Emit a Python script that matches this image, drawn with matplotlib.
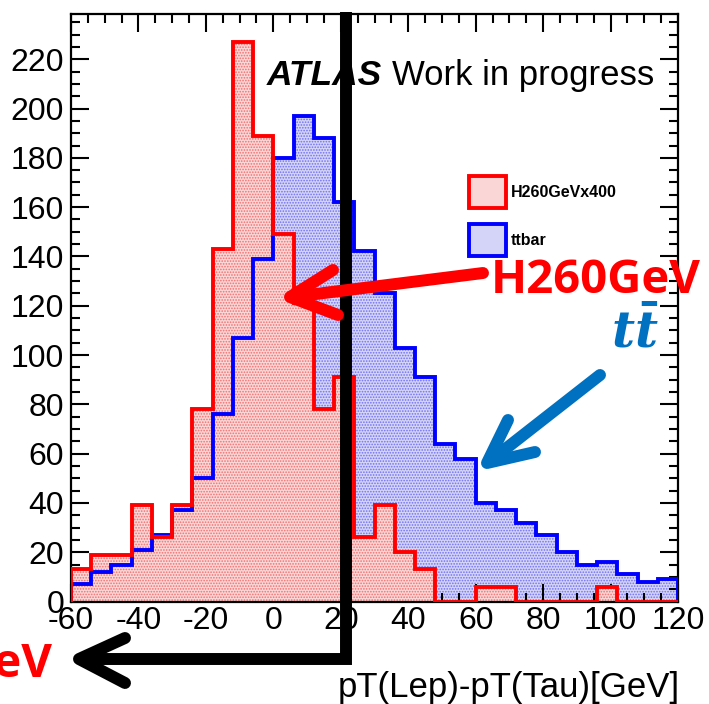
import numpy as np
import matplotlib
matplotlib.use("Agg")
import matplotlib.pyplot as plt
from matplotlib.patches import Patch

# 30 bins of 6 GeV between -60 and 120
bin_edges = np.arange(-60, 121, 6)
h260_counts = [13, 19, 19, 39, 26, 39, 78, 143, 227, 189, 149, 121, 78, 91, 26,
               39, 20, 13, 0, 0, 6, 6, 0, 0, 0, 0, 6, 0, 0, 0]
ttbar_counts = [7, 12, 15, 21, 27, 37, 50, 76, 107, 139, 180, 197, 188, 162, 142,
                125, 103, 91, 64, 58, 40, 37, 32, 27, 20, 15, 16, 11, 8, 9]
series_labels = ["H260GeVx400", "ttbar"]

x_ticks = np.arange(-60, 121, 20)
y_ticks = np.arange(0, 221, 20)

plt.rcParams["font.family"] = ["Liberation Sans", "DejaVu Sans"]
plt.rcParams["axes.unicode_minus"] = False
plt.rcParams["mathtext.fontset"] = "custom"
plt.rcParams["mathtext.it"] = "DejaVu Serif:italic:bold"
plt.rcParams["mathtext.rm"] = "DejaVu Serif:bold"
plt.rcParams["hatch.linewidth"] = 0.8

W, H = 709, 704
fig = plt.figure(figsize=(W / 100, H / 100), dpi=100)
ax = fig.add_axes([71 / W, 1 - 601.5 / H, 607 / W, 587.5 / H])

red_fill = "#fbd6d6"
blue_fill = "#d4d4f8"
red_dots = "#f07070"
blue_dots = "#7070f0"

ax.stairs(ttbar_counts, bin_edges, fill=True, facecolor=blue_fill,
          edgecolor=blue_dots, lw=0, hatch="......", zorder=1)
ax.stairs(h260_counts, bin_edges, fill=True, facecolor=red_fill,
          edgecolor=red_dots, lw=0, hatch="......", zorder=2)
ax.stairs(ttbar_counts, bin_edges, color="#0000ff", lw=2.8, zorder=3)
ax.stairs(h260_counts, bin_edges, color="#ff0000", lw=2.8, zorder=4)

ax.set_xlim(-60, 120)
ax.set_ylim(0, 238.35)
ax.set_xticks(x_ticks)
ax.set_yticks(y_ticks)
ax.set_xticks(np.arange(-60, 121, 5), minor=True)
ax.set_yticks(np.arange(0, 236, 5), minor=True)
ax.tick_params(which="both", direction="in", top=True, right=True, width=1.5,
               labelsize=23, colors="black")
ax.tick_params(which="major", length=13, pad=5)
ax.tick_params(which="minor", length=6.5)
ax.tick_params(axis="x", pad=3)
for s in ax.spines.values():
    s.set_linewidth(1.6)

handles = [Patch(facecolor=red_fill, edgecolor="#ff0000", lw=2.8),
           Patch(facecolor=blue_fill, edgecolor="#0000ff", lw=2.8)]
ax.legend(handles, series_labels, loc="upper left", bbox_to_anchor=(0.643, 0.738),
          frameon=False, borderpad=0, handlelength=2.3, handleheight=2.7,
          labelspacing=1.0, handletextpad=0.3, prop={"size": 11.5, "weight": "bold"})

fig.text(267 / W, 1 - 85 / H, "ATLAS", fontsize=25.5, fontweight="bold",
         fontstyle="italic")
fig.text(392 / W, 1 - 85 / H, "Work in progress", fontsize=25)
fig.text(680 / W, 1 - 697 / H, "pT(Lep)-pT(Tau)[GeV]", fontsize=25, ha="right")

# overlay in pixel coordinates for the hand-drawn arrows and notes
ov = fig.add_axes([0, 0, 1, 1], zorder=10)
ov.set_xlim(0, W)
ov.set_ylim(H, 0)
ov.axis("off")

lw_arrow = 8.6
kw = dict(solid_capstyle="round", solid_joinstyle="round", lw=lw_arrow)

# black L-shaped arrow
ov.plot([346, 346, 80], [12, 659, 659], color="black", solid_capstyle="butt",
        solid_joinstyle="miter", lw=lw_arrow)
ov.plot([125, 79, 125], [638, 659, 683], color="black", **kw)

# red arrow towards the signal peak
ov.plot([483, 292], [273, 297], color="#ff0000", **kw)
ov.plot([333, 290, 338], [270, 297, 315], color="#ff0000", **kw)

# blue arrow towards the ttbar tail
ov.plot([600, 490], [375, 461], color="#0070c0", **kw)
ov.plot([508, 487, 535], [420, 463, 452], color="#0070c0", **kw)

ov.text(491, 293, "H260GeV", color="#ff0000", fontsize=34, fontweight="bold",
        family="Open Sans", ha="left", va="baseline")
ov.text(53, 677, "H260GeV", color="#ff0000", fontsize=34, fontweight="bold",
        family="Open Sans", ha="right", va="baseline")
ov.text(611, 348, r"$t\bar{t}$", color="#0070c0", fontsize=36, ha="left",
        va="baseline")

fig.savefig("out.png", dpi=100)
